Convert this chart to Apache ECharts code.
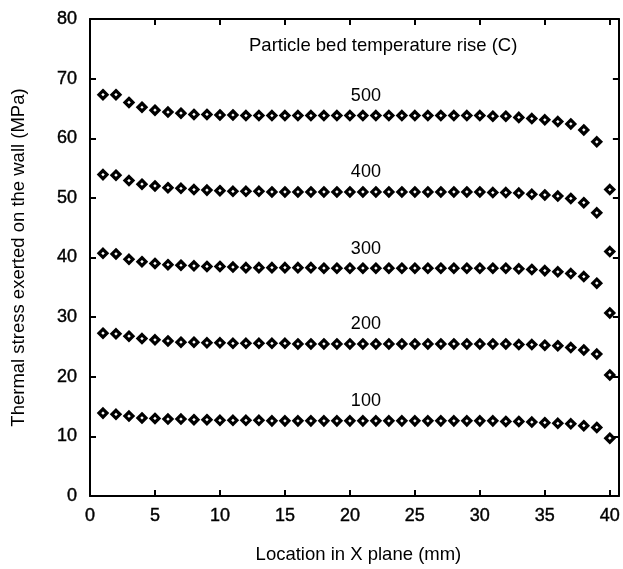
<!DOCTYPE html>
<html>
<head>
<meta charset="utf-8">
<script src="https://cdn.jsdelivr.net/npm/echarts@6/dist/echarts.min.js"></script>
<style>
  html, body { margin: 0; padding: 0; background: #fff; }
  #main { width: 623px; height: 569px; }
</style>
</head>
<body>
<div id="main"></div>
<script>
// location in x plane (mm)
var xs = [1, 2, 3, 4, 5, 6, 7, 8, 9, 10, 11, 12, 13, 14, 15, 16, 17, 18, 19, 20,
  21, 22, 23, 24, 25, 26, 27, 28, 29, 30, 31, 32, 33, 34, 35, 36, 37, 38, 39, 40];

// thermal stress (MPa), one list per temperature rise
var rise500 = [67.3, 67.3, 66.0, 65.2, 64.7, 64.4, 64.2, 64.0, 64.0, 63.9,
  63.9, 63.8, 63.8, 63.8, 63.8, 63.8, 63.8, 63.8, 63.8, 63.8,
  63.8, 63.8, 63.8, 63.8, 63.8, 63.8, 63.8, 63.8, 63.8, 63.8,
  63.7, 63.7, 63.5, 63.3, 63.1, 62.8, 62.4, 61.4, 59.4, 51.4];
var rise400 = [53.9, 53.8, 52.9, 52.3, 52.0, 51.7, 51.6, 51.4, 51.3, 51.2,
  51.1, 51.1, 51.1, 51.0, 51.0, 51.0, 51.0, 51.0, 51.0, 51.0,
  51.0, 51.0, 51.0, 51.0, 51.0, 51.0, 51.0, 51.0, 51.0, 51.0,
  50.9, 50.9, 50.8, 50.6, 50.5, 50.3, 49.9, 49.2, 47.5, 41.0];
var rise300 = [40.7, 40.6, 39.7, 39.3, 39.0, 38.8, 38.7, 38.6, 38.5, 38.5,
  38.4, 38.3, 38.3, 38.3, 38.3, 38.3, 38.3, 38.2, 38.2, 38.2,
  38.2, 38.2, 38.2, 38.2, 38.2, 38.2, 38.2, 38.2, 38.2, 38.2,
  38.2, 38.2, 38.1, 38.0, 37.8, 37.6, 37.3, 36.8, 35.7, 30.7];
var rise200 = [27.3, 27.2, 26.8, 26.4, 26.2, 26.0, 25.8, 25.8, 25.7, 25.7,
  25.6, 25.6, 25.6, 25.6, 25.6, 25.5, 25.5, 25.5, 25.5, 25.5,
  25.5, 25.5, 25.5, 25.5, 25.5, 25.5, 25.5, 25.5, 25.5, 25.5,
  25.5, 25.5, 25.4, 25.4, 25.3, 25.2, 24.9, 24.5, 23.8, 20.3];
var rise100 = [13.9, 13.7, 13.4, 13.1, 13.0, 12.9, 12.9, 12.8, 12.8, 12.7,
  12.7, 12.7, 12.7, 12.6, 12.6, 12.6, 12.6, 12.6, 12.6, 12.6,
  12.6, 12.6, 12.6, 12.6, 12.6, 12.6, 12.6, 12.6, 12.6, 12.6,
  12.6, 12.5, 12.5, 12.4, 12.3, 12.2, 12.1, 11.8, 11.5, 9.7];

var seriesNames = ['500', '400', '300', '200', '100'];
var seriesValues = [rise500, rise400, rise300, rise200, rise100];

var xTicks = [0, 5, 10, 15, 20, 25, 30, 35, 40];
var yTicks = [0, 10, 20, 30, 40, 50, 60, 70, 80];

var font = '"Liberation Sans", Arial, Helvetica, sans-serif';

var chart = echarts.init(document.getElementById('main'), null, { renderer: 'canvas' });

function pairs(vals) {
  return xs.map(function (x, i) { return [x, vals[i]]; });
}

var axisLine = { show: true, onZero: false, lineStyle: { color: '#000', width: 2 } };
var tickStyle = { show: true, inside: true, length: 6, lineStyle: { color: '#000', width: 2 } };
// scanned tick numbers look a bit heavier than the rest
var tickText = {
  fontFamily: font, fontSize: 18, color: '#000',
  textBorderColor: '#000', textBorderWidth: 0.4
};

var option = {
  backgroundColor: '#fff',
  animation: false,
  title: {
    text: 'Particle bed temperature rise (C)',
    left: 244,
    top: 31,
    textStyle: { fontFamily: font, fontSize: 18.5, fontWeight: 'normal', color: '#000' }
  },
  grid: {
    left: 90, right: 2, top: 19, bottom: 71,
    show: false
  },
  xAxis: [{
    type: 'value',
    min: 0, max: 40.7, interval: 5,
    position: 'bottom',
    name: 'Location in X plane (mm)',
    nameLocation: 'middle',
    nameGap: 49,
    nameTextStyle: { fontFamily: font, fontSize: 18.5, color: '#000', padding: [0, 0, 0, 8] },
    axisLine: axisLine,
    axisTick: tickStyle,
    splitLine: { show: false },
    axisLabel: Object.assign({
      margin: 11,
      formatter: function (v) { return xTicks.indexOf(v) >= 0 ? String(v) : ''; }
    }, tickText)
  }, {
    type: 'value',
    min: 0, max: 40.7, interval: 5,
    position: 'top',
    axisLine: axisLine,
    axisTick: tickStyle,
    splitLine: { show: false },
    axisLabel: { show: false }
  }],
  yAxis: [{
    type: 'value',
    min: 0, max: 80, interval: 10,
    position: 'left',
    name: 'Thermal stress exerted on the wall (MPa)',
    nameLocation: 'middle',
    nameGap: 62,
    nameTextStyle: { fontFamily: font, fontSize: 18.5, color: '#000' },
    axisLine: axisLine,
    axisTick: tickStyle,
    splitLine: { show: false },
    axisLabel: Object.assign({
      margin: 13,
      formatter: function (v) { return yTicks.indexOf(v) >= 0 ? String(v) : ''; }
    }, tickText)
  }, {
    type: 'value',
    min: 0, max: 80, interval: 10,
    position: 'right',
    axisLine: axisLine,
    axisTick: tickStyle,
    splitLine: { show: false },
    axisLabel: { show: false }
  }],
  series: seriesNames.map(function (name, k) {
    return {
      name: name,
      type: 'scatter',
      xAxisIndex: 0,
      yAxisIndex: 0,
      symbol: 'diamond',
      symbolSize: [8, 8],
      itemStyle: { color: '#fff', borderColor: '#000', borderWidth: 3.2, opacity: 1 },
      label: {
        show: true,
        position: 'top',
        distance: 5,
        offset: [3, 0],
        fontFamily: font,
        fontSize: 18,
        color: '#000',
        formatter: function (p) { return p.dataIndex === 20 ? name : ''; }
      },
      data: pairs(seriesValues[k])
    };
  })
};

chart.setOption(option);
</script>
</body>
</html>
